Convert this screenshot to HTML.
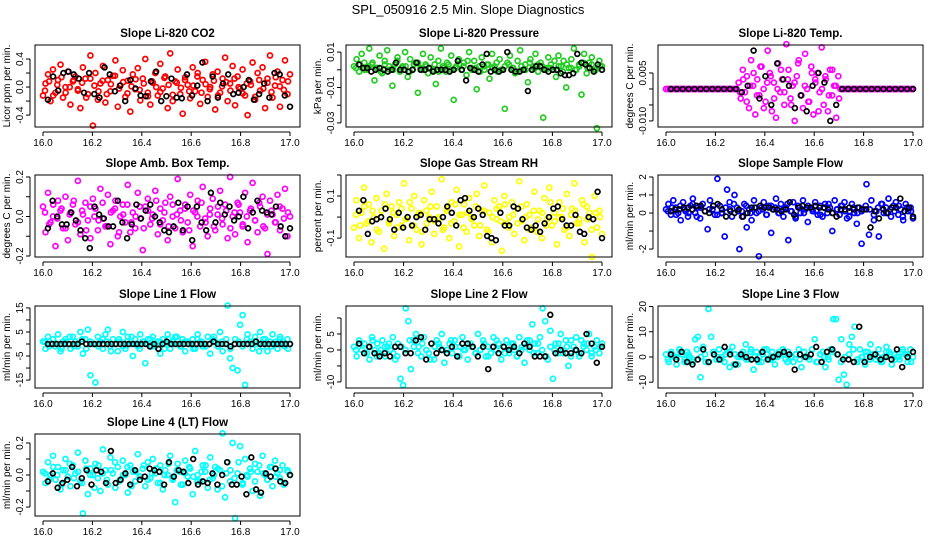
<!DOCTYPE html>
<html><head><meta charset="utf-8"><style>
html,body{margin:0;padding:0;background:#fff;}
svg{display:block;font-family:"Liberation Sans",sans-serif;}
</style></head><body>
<svg id="chart" width="936" height="540" viewBox="0 0 936 540">
<text x="468" y="14" text-anchor="middle" font-size="13">SPL_050916  2.5 Min. Slope Diagnostics</text>
</svg>
<script>
// ---- data (scaled integer values; each panel has a unit scale) ----
const xTicks = [16.0, 16.2, 16.4, 16.6, 16.8, 17.0];
const xTickLabels = ["16.0", "16.2", "16.4", "16.6", "16.8", "17.0"];

const co2Color = [-12,5,18,-20,25,-8,10,32,-15,0,22,-25,8,15,-5,-30,28,12,-10,45,-55,20,-18,5,30,-22,10,-6,16,38,-28,2,24,-14,9,-35,18,-3,27,-19,12,40,-8,-25,6,20,-12,33,-2,15,-30,48,-20,8,25,-10,-38,14,3,-16,28,-6,20,-24,10,36,-14,0,18,-32,22,-8,12,42,-20,5,30,-26,15,-2,25,-12,-40,8,35,-18,20,-5,28,-30,12,45,-15,2,22,-28,10,38,-10,18];
const co2Band = [-5,8,-12,3,14,-8,0,10,-3,6,-15,12,2,-6,9,-10,4,16,-2,7,-9,1,11,-4,5,-13,8,0,-7,13,3,-11,6,-1,10,-6,2,15,-8,4,-3,9,-12,1,7,-5,12,0,-9,5,3,-14,10,-2,6,-7,14,1,-4,8];
const co2Black = [-18,15,-5,20,22,18,12,-8,20,-10,-15,28,18,-6,2,-20,10,-2,-12,-13,8,22,-20,-13,12,-15,-16,18,-12,2,35,-20,15,-15,5,18,-10,-8,0,10,-18,-10,5,-15,20,18,-12,-28];

const presColor = [2,6,-1,9,4,0,12,3,-6,1,8,-2,5,11,0,-9,3,7,-1,2,10,-4,6,0,4,-13,1,9,3,-2,7,0,-8,5,12,1,-1,3,8,-17,2,6,0,4,-3,10,1,5,-11,2,7,0,3,-5,9,2,-1,6,0,-22,4,8,1,-2,5,11,0,3,-7,6,2,9,-1,4,-27,1,7,3,0,-4,8,2,5,-10,1,6,12,0,3,-14,9,-2,4,7,0,-33,5,2];
const presBand = [1,3,0,2,4,1,-1,3,2,0,5,1,2,-1,3,4,0,2,1,3,-1,2,4,0,1,3,2,5,0,1,-1,2,3,1,4,0,2,3,1,-1,2,0,4,1,3,2,0,1,5,2,-1,3,1,0,2,4,1,3,0,2];
const presBlack = [3,1,1,-1,0,1,0,-1,0,4,0,0,-1,0,4,0,0,1,-1,0,0,0,-1,0,5,0,-6,1,0,-1,3,9,-1,0,-1,0,10,0,-1,-1,0,-12,0,2,2,0,-1,0,0,-2,-3,-3,-2,9,4,3,1,-1,3,0];

const tempColor = [0,0,0,0,0,0,0,0,0,0,0,0,0,0,0,0,0,0,0,0,0,0,0,0,0,0,0,0,0,0,0,0,0,0,0,
 2,-3,6,-1,4,-6,9,1,-8,3,-2,7,0,-4,12,5,-7,2,-9,8,-1,3,-5,14,6,-3,1,-10,4,9,-2,-6,11,0,-4,7,-8,2,5,-1,13,-5,3,-7,6,-2,1,-9,4,0,
 0,0,0,0,0,0,0,0,0,0,0,0,0,0,0,0,0,0,0,0,0,0,0,0,0,0,0,0,0,0,0,0,0,0,0];
const tempBand = [0,0,0,0,0,0,0,0,0,0,0,0,0,0,0,0,0,0,0,0,0,
 -1,3,-4,1,5,-2,7,-6,2,4,-3,0,6,-1,3,-5,2,8,-2,1,-4,5,3,-7,0,4,-2,6,1,-3,
 0,0,0,0,0,0,0,0,0,0,0,0,0,0,0,0,0,0,0,0,0];
const tempBlack = [0,0,0,0,0,0,0,0,0,0,0,0,-1,1,12,-3,4,-5,8,3,1,-6,-2,-7,1,5,2,-10,-5,0,0,0,0,0,0,0,0,0,0,0,0,0];

const ambColor = [5,-8,12,-3,0,-15,8,3,-6,10,-12,2,6,-4,18,-9,1,7,-2,-11,9,4,-7,14,-1,-5,11,-14,3,8,-10,0,6,-3,16,-8,2,-6,12,-1,-17,5,9,-4,1,13,-9,4,-2,7,-12,10,0,-6,19,3,-8,6,-3,11,-15,2,8,-5,15,-1,-10,4,9,-7,1,13,-4,6,-11,20,0,-9,7,2,-5,12,-13,3,17,-2,-8,5,10,-6,-19,8,1,-3,11,-7,4,14,-10,0];
const ambBand = [2,-4,6,-1,4,-6,1,8,-3,3,-7,5,0,-2,7,-5,2,4,-8,1,6,-3,0,5,-6,3,-1,8,-4,2,-5,6,1,-2,4,-7,3,0,7,-3,1,-5,5,-1,3,-6,2,6,-4,0,4,-2,7,-5,1,3,-3,5,-1,2];
const ambBlack = [-6,8,0,-4,-4,2,-2,-7,-11,-16,5,1,-1,-5,-5,8,-3,-11,-4,6,-1,3,6,0,-3,-7,-8,-5,7,-7,5,-12,5,-3,-7,12,-3,7,1,5,-2,0,10,-6,2,8,3,2,1,5,-5,-10,-6];

const rhColor = [-5,8,-10,2,14,-3,6,-12,0,9,-7,3,-15,11,-2,5,-9,1,7,-4,16,-1,-11,4,10,-6,2,-13,8,-3,0,12,-8,5,-1,18,-5,3,-10,7,-2,13,-14,1,6,-7,9,0,-4,11,-9,3,15,-6,2,-12,8,-1,5,-16,10,-3,0,7,-8,4,17,-2,-11,6,1,-5,12,-7,3,-10,9,-1,14,-4,2,-13,7,0,-6,11,-9,4,16,-3,-1,8,-12,5,2,-19,10,-5,3,-8];
const rhBand = [1,-4,5,-2,3,-6,0,6,-3,2,-5,4,-1,7,-4,1,-7,3,5,-2,0,-6,4,-3,6,1,-5,2,-1,5,-4,3,-7,0,4,-2,6,-5,1,-3,5,0,-6,3,-1,2,-4,7,-2,0,4,-5,1,3,-3,6,-1,-6,2,0];
const rhBlack = [3,8,-8,-2,-1,0,4,-1,-6,2,-5,0,-4,0,1,-6,-1,-1,-3,0,5,2,-4,8,9,3,0,4,1,-9,-10,-11,2,-4,-4,5,4,-1,-5,-6,-4,-7,-3,0,4,5,-1,-4,-4,1,-7,-8,0,-1,12,-10];

const sflowColor = [2,5,-1,7,3,0,-4,6,1,-2,4,8,0,3,-3,5,1,-9,7,2,-1,19,4,0,-13,13,6,-2,10,3,-20,1,5,-8,2,-4,7,0,-24,3,6,-1,4,-11,2,8,0,5,-2,3,-15,1,6,-3,4,0,7,2,-5,3,1,6,-1,4,-2,5,0,3,-10,7,2,-1,4,6,-3,1,5,0,-6,3,-17,2,16,-12,7,-4,1,-13,5,0,3,8,-2,4,6,-1,2,-4,5,1,3,-3];
const sflowBand = [1,3,-1,4,2,0,5,-2,3,1,2,4,-1,0,3,2,5,1,-2,4,0,3,1,2,-1,4,3,0,2,5,1,-2,3,0,4,2,1,-1,3,5,0,2,4,1,-2,3,0,1,4,2,-1,3,5,0,2,1,4,-2,3,1];
const sflowBlack = [1,2,2,3,3,2,4,4,1,0,4,5,2,-2,1,0,2,-2,0,3,3,4,3,3,2,2,1,2,6,-1,3,4,3,3,4,3,3,2,0,-2,2,2,3,2,3,2,2,-8,1,-3,2,0,3,3,8,1,3,-2];

const l1Color = [1,-2,3,0,2,-1,4,-3,1,2,0,-2,3,1,-1,5,-4,2,6,-13,0,-16,3,1,-2,4,6,-1,2,0,-3,1,5,-2,3,0,-5,2,-1,4,1,-8,0,2,3,-1,1,-4,2,0,4,-2,1,3,0,-1,2,-3,1,0,2,-2,4,1,-1,0,3,-4,2,1,-1,5,-3,0,16,-6,-10,2,-11,8,12,-17,4,1,-2,3,0,5,-1,2,-3,1,4,0,-2,3,1,-1,2,0];
const l1Band = [1,-1,2,0,-2,1,3,-1,0,2,-2,1,0,-1,2,1,-3,0,2,-1,1,3,0,-2,1,2,-1,0,1,-2,2,0,3,-1,1,0,-2,2,1,-1,0,3,-1,1,2,-2,0,1,-1,2,0,1,-3,2,0,-1,1,2,0,-2];
const l1Black = [0,0,0,0,0,0,0,0,1,0,0,0,0,0,0,0,0,0,0,0,0,0,0,0,-1,0,-2,0,1,0,0,0,0,0,0,0,0,0,0,1,0,0,0,-1,0,0,0,0,0,1,0,0,0,0,0,0,0,0];

const l2Color = [1,-2,3,0,2,-1,-3,4,0,2,-1,3,-2,1,0,4,-3,2,-9,-11,13,9,-6,3,5,1,-2,4,0,-1,2,-3,3,1,5,-4,0,2,-1,3,-2,1,4,0,-3,2,1,-1,5,0,3,-2,1,-1,4,0,2,-3,1,3,-1,2,0,-2,4,1,-4,3,0,8,2,-1,4,13,9,-3,6,-9,2,-1,5,0,3,-5,-2,1,4,-1,3,2,0,5,-2,1,3,-1,2];
const l2Band = [0,2,-1,1,3,-2,0,1,2,-1,-2,1,0,3,1,-1,2,0,-3,1,2,0,-1,3,1,-2,0,2,1,-1,0,2,-2,1,3,0,-1,1,2,-2,0,1,3,-1,2,0,-2,1,0,2,-1,1,3,0,-2,1,2,-1,0,1];
const l2Black = [2,-1,1,-1,-2,-1,-2,1,1,-1,-1,3,4,-3,2,-1,0,-1,1,-2,2,2,1,-2,1,-6,1,-1,1,0,1,-1,2,1,-2,-2,-2,11,-1,0,-1,-1,0,-1,5,2,-4,1];

const l3Color = [1,-2,2,0,-3,3,1,-1,2,0,-2,7,8,-8,4,-2,19,8,1,-1,3,0,-2,2,-4,4,1,-3,0,2,5,-1,3,-5,2,0,-2,3,1,-1,2,-3,0,1,3,-1,2,0,-2,1,3,-4,2,0,-1,3,7,-2,1,2,-4,0,3,15,15,-9,7,-7,-11,5,8,12,-2,3,0,-3,2,5,1,-1,3,-2,0,4,2,-3,1,0,-1,2,1,-2,3,0];
const l3Band = [-1,1,0,2,-2,1,-1,3,0,1,-2,2,0,-1,1,2,-3,0,1,-1,2,0,-2,1,3,-1,0,2,1,-2,0,1,-1,2,0,3,-2,1,0,-1,2,1,-2,0,1,3,-1,0,2,-1,1,0,-2,2,1,-1,0,3,1,-2];
const l3Black = [1,-1,2,-2,-3,-1,3,-2,1,-1,4,1,-3,1,0,-1,-1,2,-1,0,1,2,1,-5,1,0,1,4,-2,2,3,1,-1,-1,-2,12,-2,0,1,-1,0,-1,3,-4,0,2];

const l4Color = [2,-5,8,0,12,-3,5,-9,3,10,-1,-7,6,1,14,-4,-24,9,-12,4,0,7,-2,-10,16,3,-6,11,1,-8,5,-3,9,0,-11,6,2,-4,13,-1,4,-7,8,-2,10,1,-5,6,-9,3,0,12,-3,-17,7,2,-6,9,-1,4,-12,15,0,-4,6,2,-8,11,-2,5,-9,3,26,-14,8,-4,20,-27,1,18,-6,10,-1,4,-10,7,2,-13,12,0,-3,5,-7,9,1,-2,6,-5,3,0];
const l4Band = [1,-3,5,0,-6,3,7,-2,2,-5,4,0,-8,6,1,-3,3,8,-4,0,5,-7,2,-1,6,-3,1,4,-5,0,7,-2,3,-6,1,5,-1,-4,2,6,-3,0,4,-7,1,3,-2,8,-5,0,2,-4,6,1,-3,5,-1,3,-6,2];
const l4Black = [-4,1,-8,-5,-3,5,-7,-2,3,-6,3,2,-5,15,-5,-3,1,-6,3,-3,-1,4,3,2,-6,8,-1,3,2,-5,10,-6,-4,-5,1,-6,0,8,-6,-6,-1,-12,11,-9,-11,1,-1,4,-4,-5,0];

const panelTitles = ["Slope Li-820 CO2","Slope Li-820 Pressure","Slope Li-820 Temp.","Slope Amb. Box Temp.","Slope Gas Stream RH","Slope Sample Flow","Slope Line 1 Flow","Slope Line 2 Flow","Slope Line 3 Flow","Slope Line 4 (LT) Flow"];
const yTitles = ["Licor ppm per min.","kPa per min.","degrees C per min.","degrees C per min.","percent per min.","ml/min per min.","ml/min per min.","ml/min per min.","ml/min per min.","ml/min per min."];

// ---- layout / config ----
const cols = [{l:35,r:300},{l:346,r:612},{l:658,r:923}];
const rows = [{t:45,b:127},{t:175,b:257},{t:306,b:388},{t:434,b:516}];
const panels = [
 {name:"co2",c:0,r:0,col:"#ff0000",cd:co2Color,bnd:co2Band,bd:co2Black,s:0.01,ymin:-0.57,ymax:0.6,ticks:[-0.4,-0.2,0,0.2,0.4],labs:{"-0.4":"-0.4","0":"0.0","0.4":"0.4"}},
 {name:"pressure",c:1,r:0,col:"#22cc22",cd:presColor,bnd:presBand,bd:presBlack,s:0.001,ymin:-0.0323,ymax:0.014,ticks:[-0.03,-0.02,-0.01,0,0.01],labs:{"-0.03":"-0.03","-0.01":"-0.01","0.01":"0.01"}},
 {name:"li820-temp",c:2,r:0,col:"#ff00ff",cd:tempColor,bnd:tempBand,bd:tempBlack,s:0.001,ymin:-0.0119,ymax:0.01375,ticks:[-0.01,-0.005,0,0.005],labs:{"-0.01":"-0.010","0.005":"0.005"}},
 {name:"amb-box-temp",c:0,r:1,col:"#ff00ff",cd:ambColor,bnd:ambBand,bd:ambBlack,s:0.01,ymin:-0.205,ymax:0.21,ticks:[-0.2,-0.1,0,0.1,0.2],labs:{"-0.2":"-0.2","0":"0.0","0.2":"0.2"}},
 {name:"gas-stream-rh",c:1,r:1,col:"#ffff00",cd:rhColor,bnd:rhBand,bd:rhBlack,s:0.01,ymin:-0.19,ymax:0.2,ticks:[-0.1,0,0.1,0.2],labs:{"-0.1":"-0.1","0.1":"0.1"}},
 {name:"sample-flow",c:2,r:1,col:"#0000ff",cd:sflowColor,bnd:sflowBand,bd:sflowBlack,s:0.1,ymin:-2.44,ymax:2.11,ticks:[-2,-1,0,1,2],labs:{"-2":"-2","0":"0","1":"1","2":"2"}},
 {name:"line1-flow",c:0,r:2,col:"#00ffff",cd:l1Color,bnd:l1Band,bd:l1Black,s:1,ymin:-18.3,ymax:15.8,ticks:[-15,-10,-5,0,5,10,15],labs:{"-15":"-15","-5":"-5","5":"5","15":"15"}},
 {name:"line2-flow",c:1,r:2,col:"#00ffff",cd:l2Color,bnd:l2Band,bd:l2Black,s:1,ymin:-11.9,ymax:13.75,ticks:[-10,-5,0,5,10],labs:{"-10":"-10","0":"0","5":"5"}},
 {name:"line3-flow",c:2,r:2,col:"#00ffff",cd:l3Color,bnd:l3Band,bd:l3Black,s:1,ymin:-12.3,ymax:20.2,ticks:[-10,0,10,20],labs:{"-10":"-10","0":"0","10":"10","20":"20"}},
 {name:"line4-flow",c:0,r:3,col:"#00ffff",cd:l4Color,bnd:l4Band,bd:l4Black,s:0.01,ymin:-0.256,ymax:0.256,ticks:[-0.2,-0.1,0,0.1,0.2],labs:{"-0.2":"-0.2","0":"0.0","0.2":"0.2"}}
];

const NS = "http://www.w3.org/2000/svg";
const svg = document.getElementById("chart");
function mk(tag, attrs, parent){
  const e = document.createElementNS(NS, tag);
  for (const k in attrs) e.setAttribute(k, attrs[k]);
  (parent||svg).appendChild(e);
  return e;
}

panels.forEach((p, pi) => {
  const C = cols[p.c], R = rows[p.r];
  const x0 = C.l + 8, x1 = C.r - 10;
  const xs = v => x0 + (v - 16) / (17 - 16) * (x1 - x0);
  const ys = v => R.b - (v - p.ymin) / (p.ymax - p.ymin) * (R.b - R.t);

  const g = mk("g", {});
  
  

  const t = mk("text", {x:(C.l+C.r)/2, y:R.t-8, "text-anchor":"middle", "font-size":"11.5", "font-weight":"bold"}, g);
  t.textContent = panelTitles[pi];
  
  

  // colored series
  const cg = mk("g", {fill:"none", stroke:p.col, "stroke-width":"1.7"}, g);
  
  
  const n = p.cd.length;
  p.cd.forEach((v, i) => {
    const xv = 16 + i / (n - 1);
    const c = mk("circle", {cx:xs(xv).toFixed(1), cy:ys(v*p.s).toFixed(1), r:"2.5"}, cg);
    
    
  });
  const nb = p.bnd.length;
  p.bnd.forEach((v, i) => {
    const xv = 16.008 + 0.984 * i / (nb - 1);
    const c = mk("circle", {cx:xs(xv).toFixed(1), cy:ys(v*p.s).toFixed(1), r:"2.5"}, cg);
    
    
  });
  // black series
  const bg = mk("g", {fill:"none", stroke:"#000", "stroke-width":"1.7"}, g);
  
  
  const m = p.bd.length;
  p.bd.forEach((v, i) => {
    const xv = 16.02 + 0.98 * i / (m - 1);
    const c = mk("circle", {cx:xs(xv).toFixed(1), cy:ys(v*p.s).toFixed(1), r:"2.4"}, bg);
    
    
  });

  // box
  const box = mk("rect", {x:C.l, y:R.t, width:C.r-C.l, height:R.b-R.t, fill:"none", stroke:"#000", "stroke-width":"1"}, g);
  
  

  // x axis
  const xa = mk("g", {}, g);
  
  
  mk("line", {x1:xs(16), x2:xs(17), y1:R.b+5, y2:R.b+5, stroke:"#000"}, xa);
  xTicks.forEach((v, i) => {
    mk("line", {x1:xs(v), x2:xs(v), y1:R.b+5, y2:R.b+9, stroke:"#000"}, xa);
    const tl = mk("text", {x:xs(v), y:R.b+19, "text-anchor":"middle", "font-size":"10"}, xa);
    tl.textContent = xTickLabels[i];
    
    
  });

  // y axis
  const ya = mk("g", {}, g);
  
  
  const tk = p.ticks;
  mk("line", {x1:C.l-5, x2:C.l-5, y1:ys(tk[0]), y2:ys(tk[tk.length-1]), stroke:"#000"}, ya);
  tk.forEach(v => {
    mk("line", {x1:C.l-9, x2:C.l-5, y1:ys(v), y2:ys(v), stroke:"#000"}, ya);
    const key = String(v);
    if (p.labs[key] !== undefined) {
      const yy = ys(v), xx = C.l - 12;
      const tl = mk("text", {x:xx, y:yy, "text-anchor":"middle", "font-size":"10", transform:`rotate(-90 ${xx} ${yy})`}, ya);
      tl.textContent = p.labs[key];
      
      
    }
  });
  const yx = C.l - 25, yy = (R.t + R.b) / 2;
  const yt = mk("text", {x:yx, y:yy, "text-anchor":"middle", "font-size":"10", transform:`rotate(-90 ${yx} ${yy})`}, g);
  yt.textContent = yTitles[pi];
  
  
});
</script>
</body></html>
